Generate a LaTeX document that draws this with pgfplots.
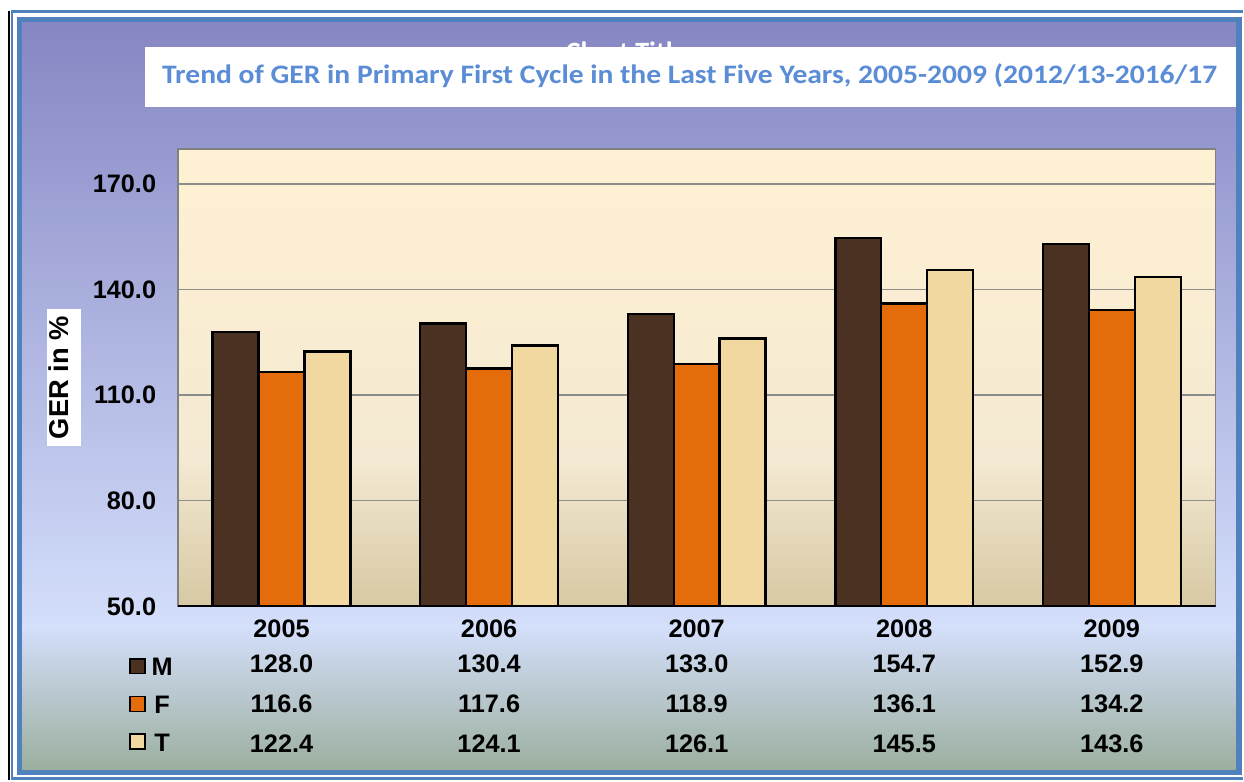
\documentclass[border=0pt]{standalone}
\usepackage{pgfplots}
\pgfplotsset{compat=1.18}
\usepackage{fontspec}
\setmainfont{Liberation Sans}
\newfontfamily\calfont{Carlito}
\definecolor{bgtop}{HTML}{8586C3}
\definecolor{bgmid}{HTML}{D4DFFB}
\definecolor{bgbot}{HTML}{9AAE9C}
\definecolor{framec}{HTML}{4F81BD}
\definecolor{pltop}{HTML}{FFF1D3}
\definecolor{plmid}{HTML}{F4E9D2}
\definecolor{plbot}{HTML}{D7C9A4}
\definecolor{mcol}{HTML}{4A3122}
\definecolor{fcol}{HTML}{E46C0A}
\definecolor{tcol}{HTML}{F0D8A0}
\definecolor{ttl}{HTML}{5A8DD6}
\begin{document}
\begin{tikzpicture}
\begin{scope}[x=0.75pt,y=-0.75pt]
\fill[white] (0,0) rectangle (1244,781);
\fill[top color=bgtop,bottom color=bgmid] (19,19) rectangle (1241,628);
\fill[top color=bgmid,bottom color=bgbot] (19,627) rectangle (1241,774);
\draw[black,line width=1.6pt] (9,11) -- (9,781);
\draw[framec,line width=2.2pt] (1244,11.5) -- (12,11.5) -- (12,781);
\draw[framec,line width=2.2pt] (12,779.5) -- (1244,779.5);
\draw[framec,line width=4.3pt] (19.5,19.5) rectangle (1240.5,773.5);
\node[font=\calfont\bfseries\fontsize{21}{25}\selectfont,text=white,anchor=base] at (627,62) {Chart Title};
\fill[white] (145,47) rectangle (1237,107);
\node[font=\calfont\bfseries\fontsize{20}{24}\selectfont,text=ttl,anchor=base] at (690.5,84) {\scalebox{1.11}[1]{Trend of GER in Primary First Cycle in the Last Five Years, 2005-2009 (2012/13-2016/17}};
\fill[top color=pltop,bottom color=plmid] (178,149) rectangle (1217,460);
\fill[top color=plmid,bottom color=plbot] (178,459) rectangle (1217,607);
\end{scope}
\begin{axis}[
  at={(133.5pt,-455.25pt)}, anchor=south west,
  scale only axis, width=779.25pt, height=343.5pt,
  xmin=-0.5, xmax=4.5, ymin=50, ymax=180,
  ybar=0pt, bar width=0.2214,
  xtick={0,1,2,3,4},
  xticklabels={{2005\\[-3.75pt]128.0\\116.6\\122.4},{2006\\[-3.75pt]130.4\\117.6\\124.1},{2007\\[-3.75pt]133.0\\118.9\\126.1},{2008\\[-3.75pt]154.7\\136.1\\145.5},{2009\\[-3.75pt]152.9\\134.2\\143.6}},
  xticklabel style={align=center, anchor=north, inner sep=0pt, yshift=-10pt, font=\bfseries\fontsize{19}{30}\selectfont},
  ytick={50,80,110,140,170},
  yticklabel style={xshift=-12.75pt, /pgf/number format/.cd,fixed,fixed zerofill,precision=1},
  /pgf/number format/assume math mode=true,
  ticklabel style={font=\bfseries\fontsize{19}{23}\selectfont},
  major tick length=0pt,
  ymajorgrids, grid style={draw=black!45, line width=1.1pt},
  axis line style={draw=black!50, line width=1.1pt},
  ylabel={GER in \%},
  ylabel style={at={(axis description cs:-0.1097,0.5)}, anchor=center, fill=white, font=\bfseries\fontsize{20.5}{24}\selectfont, text height=0.72em, text depth=0pt, inner xsep=5pt, inner ysep=9pt},
  legend style={at={(axis description cs:-0.0472,-0.1107)}, anchor=north west, draw=none, fill=none, inner sep=0pt, row sep=14.3pt, column sep=4.5pt, font=\bfseries\fontsize{19}{23}\selectfont, nodes={inner sep=0pt, text height=14pt, text depth=0pt}},
  mylegend/.style={legend image code/.code={\draw[##1,line width=1.2pt] (0pt,-5.35pt) rectangle (11.2pt,5.85pt);}},
]
\addplot[fill=mcol, draw=black, line width=1.8pt, mylegend] coordinates {(0,128.0) (1,130.4) (2,133.0) (3,154.7) (4,152.9)};
\addplot[fill=fcol, draw=black, line width=1.8pt, mylegend] coordinates {(0,116.6) (1,117.6) (2,118.9) (3,136.1) (4,134.2)};
\addplot[fill=tcol, draw=black, line width=1.8pt, mylegend] coordinates {(0,122.4) (1,124.1) (2,126.1) (3,145.5) (4,143.6)};
\legend{M,F,T}
\draw[black,line width=1.5pt] (axis cs:-0.5,50) -- (axis cs:4.5,50);
\end{axis}
\end{tikzpicture}
\end{document}
